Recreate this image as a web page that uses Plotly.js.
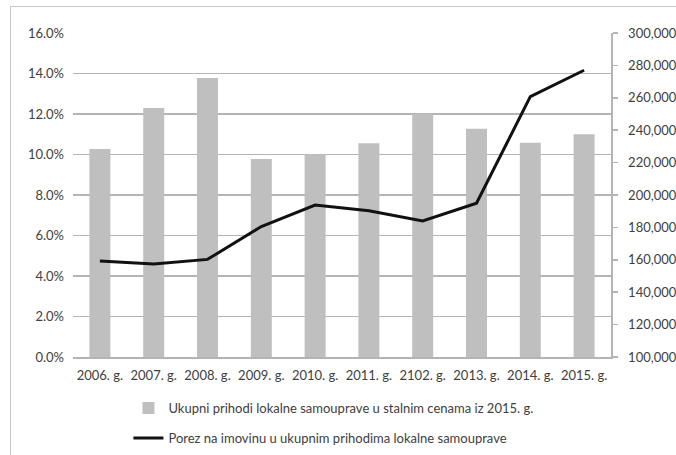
<!DOCTYPE html>
<html>
<head>
<meta charset="utf-8">
<script src="https://cdn.plot.ly/plotly-3.0.1.min.js"></script>
<style>
  html, body { margin: 0; padding: 0; background: #ffffff; }
  #wrap { position: relative; width: 676px; height: 455px; overflow: hidden; }
  #chart { position: absolute; left: 0; top: 0; width: 676px; height: 455px; }
  #frame { position: absolute; left: 10px; top: 6px; width: 800px; height: 600px;
           border-left: 1.5px solid #c8c8c8; border-top: 1.5px solid #c8c8c8; pointer-events: none; }
</style>
</head>
<body>
<div id="wrap">
  <div id="chart"></div>
  <div id="frame"></div>
</div>
<script>
// ---- data ----
const years = ["2006. g.", "2007. g.", "2008. g.", "2009. g.", "2010. g.",
               "2011. g.", "2102. g.", "2013. g.", "2014. g.", "2015. g."];
const revenue = [228400, 253700, 272200, 222200, 225100, 231900, 250000, 240900, 232300, 237500];
const taxShare = [0.0474, 0.0459, 0.0482, 0.0644, 0.0750, 0.0722, 0.0672, 0.0759, 0.1286, 0.1416];
const revenueName = "Ukupni prihodi lokalne samouprave u stalnim cenama iz 2015. g.";
const taxName = "Porez na imovinu u ukupnim prihodima lokalne samouprave";

const FONT = "Lato, 'Open Sans', sans-serif";
const TXT = "#404040";
const GRID = "#b4b4b4";

const traces = [
  {
    type: "bar", x: years, y: revenue, name: revenueName,
    xaxis: "x", yaxis: "y", legendgroup: "a",
    marker: { color: "#bfbfbf" }, hoverinfo: "skip"
  },
  {
    type: "scatter", mode: "lines", x: years, y: taxShare, name: taxName,
    xaxis: "x", yaxis: "y2", legendgroup: "b",
    line: { color: "#111111", width: 3 }, hoverinfo: "skip"
  }
];

const layout = {
  width: 676, height: 455,
  margin: { l: 73, r: 65, t: 33, b: 98, autoexpand: false },
  paper_bgcolor: "#ffffff", plot_bgcolor: "#ffffff",
  font: { family: FONT, size: 13, color: TXT },
  bargap: 0.61,
  showlegend: true,
  legend: {
    orientation: "v", xref: "container", yref: "container",
    x: 0.19, xanchor: "left", y: 0.136, yanchor: "top",
    traceorder: "grouped", tracegroupgap: 10,
    font: { family: FONT, size: 13, color: TXT },
    bgcolor: "rgba(0,0,0,0)"
  },
  xaxis: {
    type: "category", showgrid: false, showline: true, linecolor: GRID, linewidth: 1.5,
    ticks: "", ticklabelstandoff: 6,
    tickfont: { family: FONT, size: 13, color: TXT }, fixedrange: true
  },
  yaxis: {
    side: "right", range: [100000, 300000], dtick: 20000, tick0: 100000,
    tickformat: ",d", showgrid: false,
    showline: true, linecolor: GRID, linewidth: 1.5,
    ticks: "outside", ticklen: 5, tickcolor: GRID, tickwidth: 1.5,
    ticklabelstandoff: 8,
    zeroline: false, tickfont: { family: FONT, size: 13, color: TXT }, fixedrange: true
  },
  yaxis2: {
    overlaying: "y", side: "left", range: [0, 0.16], dtick: 0.02, tick0: 0,
    tickformat: ".1%", showgrid: true, gridcolor: GRID, gridwidth: 1.5,
    showline: false, zeroline: false,
    ticks: "", ticklabelstandoff: 8,
    tickfont: { family: FONT, size: 13, color: TXT }, fixedrange: true
  }
};

Plotly.newPlot("chart", traces, layout, { displayModeBar: false, staticPlot: true });
</script>
</body>
</html>
